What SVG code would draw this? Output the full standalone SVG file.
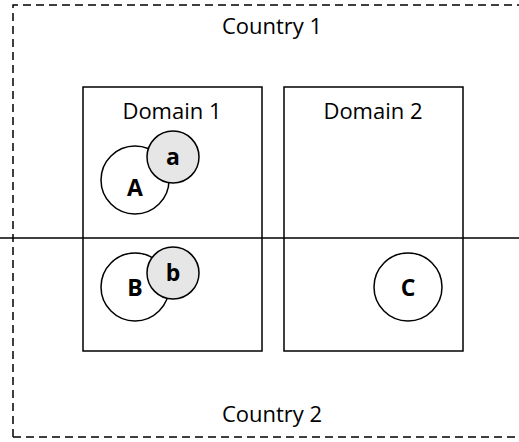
<svg xmlns="http://www.w3.org/2000/svg" width="519" height="442" viewBox="0 0 519 442">
  <style>
    .lbl { font-family: "Open Sans", "Liberation Sans", sans-serif; font-size: 22px; fill: #000; text-anchor: middle; }
    .big { fill: #fff; stroke: #000; stroke-width: 1.5; }
    .small { fill: #e6e6e6; stroke: #000; stroke-width: 1.5; }
    .box { fill: none; stroke: #000; stroke-width: 1.5; }
    .letter { font-family: "Open Sans", "Liberation Sans", sans-serif; font-size: 23px; font-weight: bold; fill: #000; text-anchor: middle; }
  </style>
  <rect width="519" height="442" fill="#fff"/>

  <!-- country frame and border -->
  <g id="countries">
    <path d="M13,437 L13,5 L530,5 M13,437 L530,437" fill="none" stroke="#000" stroke-width="1.5" stroke-dasharray="8,5"/>
    <text class="lbl" x="272" y="34">Country 1</text>
    <text class="lbl" x="272" y="422">Country 2</text>
  </g>

  <g id="domain1">
    <rect class="box" x="83" y="87" width="179" height="264"/>
    <text class="lbl" x="172" y="119">Domain 1</text>
  </g>
  <g id="domain2">
    <rect class="box" x="284" y="87" width="179" height="264"/>
    <text class="lbl" x="373" y="119">Domain 2</text>
  </g>

  <g id="connectors">
    <line x1="0" y1="238" x2="519" y2="238" stroke="#000" stroke-width="1.5"/>
  </g>

  <g id="node-A">
    <circle class="big" cx="135" cy="180" r="34"/>
    <text class="letter" x="135" y="196">A</text>
  </g>
  <g id="node-a">
    <circle class="small" cx="173" cy="157" r="26"/>
    <text class="letter" x="173" y="165">a</text>
  </g>
  <g id="node-B">
    <circle class="big" cx="135" cy="287" r="34"/>
    <text class="letter" x="135" y="296">B</text>
  </g>
  <g id="node-b">
    <circle class="small" cx="173" cy="273" r="26"/>
    <text class="letter" x="173" y="281">b</text>
  </g>
  <g id="node-C">
    <circle class="big" cx="408" cy="287" r="34"/>
    <text class="letter" x="408" y="296">C</text>
  </g>
</svg>
